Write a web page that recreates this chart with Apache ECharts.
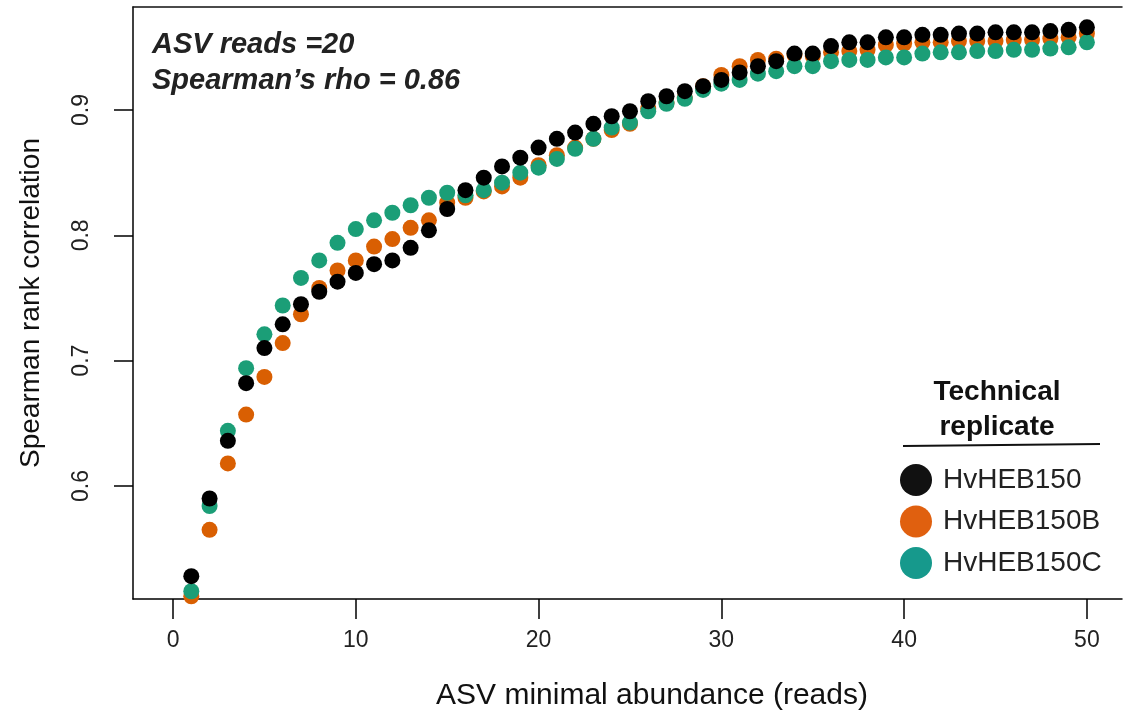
<!DOCTYPE html>
<html>
<head>
<meta charset="utf-8">
<script src="https://cdn.jsdelivr.net/npm/echarts@6/dist/echarts.min.js"></script>
<style>
html,body{margin:0;padding:0;background:#fff;overflow:hidden;}
#chart{width:1123px;height:716px;}
</style>
</head>
<body>
<div id="chart"></div>
<script>
var reads = [1,2,3,4,5,6,7,8,9,10,11,12,13,14,15,16,17,18,19,20,21,22,23,24,25,26,27,28,29,30,31,32,33,34,35,36,37,38,39,40,41,42,43,44,45,46,47,48,49,50];
var hvheb150 = [0.528,0.590,0.636,0.682,0.710,0.729,0.745,0.755,0.763,0.770,0.777,0.780,0.790,0.804,0.821,0.836,0.846,0.855,0.862,0.870,0.877,0.882,0.889,0.895,0.899,0.907,0.911,0.915,0.919,0.924,0.930,0.935,0.939,0.945,0.945,0.951,0.954,0.954,0.958,0.958,0.960,0.960,0.961,0.961,0.962,0.962,0.962,0.963,0.964,0.966];
var hvheb150B = [0.512,0.565,0.618,0.657,0.687,0.714,0.737,0.758,0.772,0.780,0.791,0.797,0.806,0.812,0.826,0.830,0.835,0.839,0.846,0.856,0.864,0.870,0.877,0.884,0.889,0.901,0.906,0.910,0.919,0.928,0.935,0.940,0.941,0.944,0.943,0.946,0.947,0.948,0.952,0.953,0.954,0.954,0.955,0.955,0.955,0.956,0.956,0.957,0.958,0.961];
var hvheb150C = [0.516,0.584,0.644,0.694,0.721,0.744,0.766,0.780,0.794,0.805,0.812,0.818,0.824,0.830,0.834,0.832,0.836,0.842,0.850,0.854,0.861,0.869,0.877,0.886,0.890,0.899,0.905,0.909,0.916,0.921,0.924,0.929,0.931,0.935,0.935,0.939,0.940,0.940,0.942,0.942,0.945,0.946,0.946,0.947,0.947,0.948,0.948,0.949,0.950,0.954];
var seriesNames = ['HvHEB150','HvHEB150B','HvHEB150C'];
var xTicks = [0,10,20,30,40,50];
var yTicks = [0.6,0.7,0.8,0.9];
var xTitle = 'ASV minimal abundance (reads)';
var yTitle = 'Spearman rank correlation';
var annotation = ['ASV reads =20', 'Spearman\u2019s rho = 0.86'];
var legendTitle = ['Technical', 'replicate'];

var colors = ['#000000','#D95F02','#1B9E77'];
var FONT = 'Liberation Sans, Arial, sans-serif';

function pairs(ys){ return reads.map(function(x,i){ return [x, ys[i]]; }); }

var chart = echarts.init(document.getElementById('chart'), null, {renderer:'canvas'});
var allSeries = [hvheb150, hvheb150B, hvheb150C];
var zOrder = [4, 2, 3];
var option = {
  backgroundColor:'#ffffff',
  animation:false,
  grid:{left:133, top:7, right:1, bottom:117, show:false, containLabel:false},
  xAxis:[{
    type:'value', min:-2.19, max:51.92, position:'bottom',
    axisLine:{show:true, onZero:false, lineStyle:{color:'#000', width:1.5}},
    axisTick:{show:true, inside:false, length:20, customValues:xTicks, lineStyle:{color:'#000', width:1.5}},
    axisLabel:{customValues:xTicks, fontFamily:FONT, fontSize:23, color:'#222', margin:30},
    splitLine:{show:false}
  },{
    type:'value', min:-2.19, max:51.92, position:'top',
    axisLine:{show:true, onZero:false, lineStyle:{color:'#111', width:1.5}},
    axisTick:{show:false}, axisLabel:{show:false}, splitLine:{show:false}
  }],
  yAxis:{
    type:'value', min:0.5098, max:0.9822,
    name:yTitle, nameLocation:'middle', nameGap:88,
    nameTextStyle:{fontFamily:FONT, fontSize:28, color:'#111'},
    axisLine:{show:true, onZero:false, lineStyle:{color:'#000', width:1.5}},
    axisTick:{show:true, inside:false, length:19, customValues:yTicks, lineStyle:{color:'#000', width:1.5}},
    axisLabel:{customValues:yTicks, rotate:90, fontFamily:FONT, fontSize:23, color:'#222', margin:40,
      formatter:function(v){ return v.toFixed(1); }},
    splitLine:{show:false}
  },
  legend:{
    orient:'vertical', left:895, top:459, itemWidth:32, itemHeight:32, itemGap:9.5, icon:'circle',
    textStyle:{fontFamily:FONT, fontSize:28, color:'#222', padding:[0,0,0,6]},
    data:[
      {name:seriesNames[0], itemStyle:{color:'#111111'}},
      {name:seriesNames[1], itemStyle:{color:'#E0600F'}},
      {name:seriesNames[2], itemStyle:{color:'#16998C'}}
    ]
  },
  graphic:[
    {type:'text', x:652, y:696, style:{text:xTitle, font:'30px ' + FONT, fill:'#111', align:'center', verticalAlign:'middle'}},
    {type:'text', left:152, top:30, style:{text:annotation[0], font:'italic bold 29px ' + FONT, fill:'#222'}},
    {type:'text', left:152, top:66, style:{text:annotation[1], font:'italic bold 29px ' + FONT, fill:'#222'}},
    {type:'text', x:997, y:392, style:{text:legendTitle[0], font:'bold 28px ' + FONT, fill:'#111', align:'center', verticalAlign:'middle'}},
    {type:'text', x:997, y:427, style:{text:legendTitle[1], font:'bold 28px ' + FONT, fill:'#111', align:'center', verticalAlign:'middle'}},
    {type:'line', shape:{x1:903, y1:446, x2:1100, y2:444}, style:{stroke:'#111', lineWidth:2}}
  ],
  series: allSeries.map(function(ys, i){
    return {
      name:seriesNames[i], type:'scatter', data:pairs(ys), symbol:'circle', symbolSize:16,
      z:zOrder[i], itemStyle:{color:colors[i], opacity:1}, emphasis:{disabled:true}
    };
  })
};
chart.setOption(option);
</script>
</body>
</html>
